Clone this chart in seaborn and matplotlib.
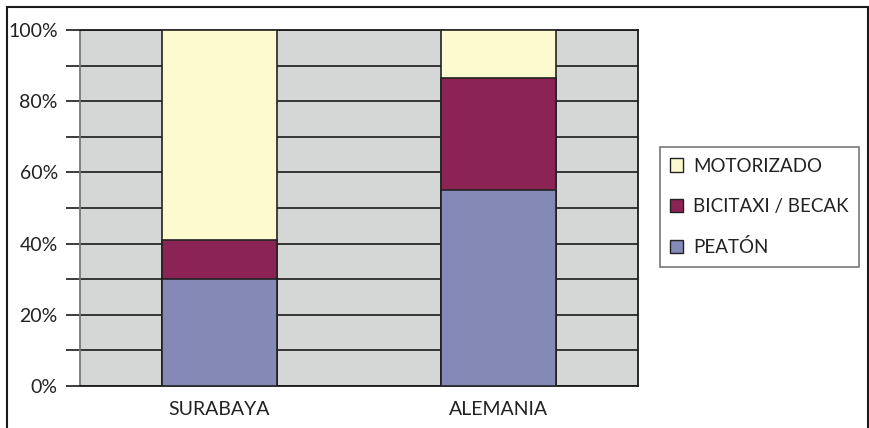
import matplotlib
matplotlib.use("Agg")
import matplotlib.pyplot as plt
import matplotlib.patches as mpatches
import seaborn as sns
import pandas as pd
import numpy as np

categories = ["SURABAYA", "ALEMANIA"]
peaton = [30.0, 55.0]
bicitaxi = [11.0, 31.5]
motorizado = [59.0, 13.5]
series_names = ["MOTORIZADO", "BICITAXI / BECAK", "PEATÓN"]
colors = {"MOTORIZADO": "#FCFACE", "BICITAXI / BECAK": "#8B2355", "PEATÓN": "#8489B6"}
y_ticklabels = ["0%", "20%", "40%", "60%", "80%", "100%"]

sns.set_style("white")
plt.rcParams["font.family"] = ["Lato", "DejaVu Sans"]

fig = plt.figure(figsize=(8.7, 4.28), dpi=100)
ax = fig.add_axes([80/870, 1-386/428, (638-80)/870, (386-30)/428])
ax.set_facecolor("#D5D6D6")

df = pd.DataFrame({"cat": categories, "p": peaton, "b": bicitaxi, "m": motorizado})
cum1 = df["p"]
cum2 = df["p"] + df["b"]
cum3 = cum2 + df["m"]

for vals, name in [(cum3, "MOTORIZADO"), (cum2, "BICITAXI / BECAK"), (cum1, "PEATÓN")]:
    sns.barplot(x=df["cat"], y=vals, color=colors[name], saturation=1, width=0.41,
                edgecolor="#222222", linewidth=1.2, ax=ax, zorder=3)

ax.set_xlim(-0.5, 1.5)
ax.set_ylim(0, 100)
ax.set_yticks(np.arange(0, 101, 10))
labels = []
for t in range(0, 101, 10):
    labels.append(f"{t}%" if t % 20 == 0 else "")
ax.set_yticklabels(labels, fontsize=14, color="#222222")
ax.yaxis.grid(True, color="#1a1a1a", linewidth=1.2, zorder=0)
ax.set_axisbelow(True)
ax.tick_params(axis="y", length=10, width=1.2, color="#1a1a1a", direction="out", left=True, pad=6)
ax.tick_params(axis="x", length=0, pad=11, labelsize=14, labelcolor="#222222")
ax.set_xlabel("")
ax.set_ylabel("")
for s in ["top", "right", "bottom"]:
    ax.spines[s].set_color("#1a1a1a")
    ax.spines[s].set_linewidth(1.3)
ax.spines["left"].set_color("#777777")
ax.spines["left"].set_linewidth(1.3)

handles = [mpatches.Patch(facecolor=colors[n], edgecolor="#222222", linewidth=1, label=n) for n in series_names]
leg = fig.legend(handles=handles, loc="center left", bbox_to_anchor=(660/870, 1-207/428),
                 frameon=True, fancybox=False, fontsize=13.5, handlelength=0.7, handleheight=0.7,
                 handletextpad=0.5, labelspacing=1.25, borderpad=0.55, borderaxespad=0)
leg.get_frame().set_edgecolor("#555555")
leg.get_frame().set_linewidth(1.2)
for t in leg.get_texts():
    t.set_color("#222222")

border = mpatches.Rectangle((7/870, -0.05), (868-7)/870, (428-7)/428 + 0.05, transform=fig.transFigure,
                            fill=False, edgecolor="#1a1a1a", linewidth=1.5, clip_on=False)
fig.patches.append(border)

fig.savefig("out.png", dpi=100, facecolor="white")
